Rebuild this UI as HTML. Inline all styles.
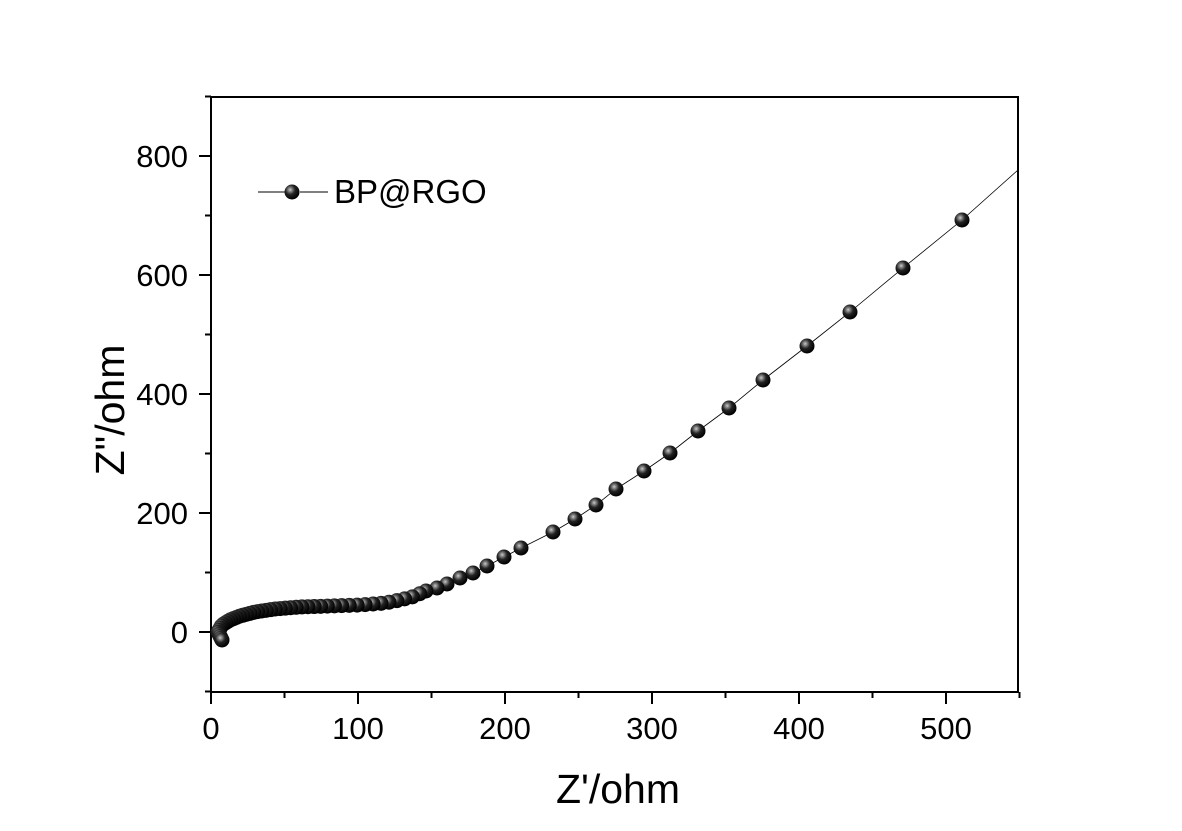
<!DOCTYPE html>
<html><head><meta charset="utf-8"><style>
html,body{margin:0;padding:0;background:#fff;}
svg{display:block;font-family:"Liberation Sans",Arial,sans-serif;}
</style></head><body>
<svg id="s" width="1182" height="831" viewBox="0 0 1182 831" xmlns="http://www.w3.org/2000/svg">
<defs>
<radialGradient id="g" cx="0.38" cy="0.35" r="0.65">
<stop offset="0" stop-color="#ccc"/><stop offset="0.18" stop-color="#888"/><stop offset="0.5" stop-color="#222"/><stop offset="1" stop-color="#000"/>
</radialGradient>
</defs>
<rect x="211" y="97" width="807" height="595" fill="none" stroke="#000" stroke-width="2"/>
<g id="ticks" stroke="#000" stroke-width="2"></g>
<g id="labels" font-size="31" fill="#000"></g>
<text x="618" y="803" font-size="41" text-anchor="middle">Z'/ohm</text>
<text transform="translate(124,410) rotate(-90)" font-size="41" text-anchor="middle">Z"/ohm</text>
<line x1="258" y1="192" x2="286" y2="192" stroke="#000" stroke-width="1"/>
<line x1="300" y1="192" x2="328" y2="192" stroke="#000" stroke-width="1"/>
<circle cx="292" cy="192" r="7.5" fill="url(#g)"/>
<text x="334" y="203" font-size="33">BP@RGO</text>
<g id="data"></g>
</svg>
<script>
var NS="http://www.w3.org/2000/svg";
function el(p,t,a){var e=document.createElementNS(NS,t);for(var k in a)e.setAttribute(k,a[k]);p.appendChild(e);return e;}
var T=document.getElementById('ticks'),L=document.getElementById('labels'),D=document.getElementById('data');
function X(v){return 211+1.47*v;} function Y(v){return 632-0.595*v;}
for(var v=0;v<=550;v+=50){var x=X(v),maj=v%100==0;el(T,'line',{x1:x,y1:692,x2:x,y2:maj?704:698});
 if(maj){var t=el(L,'text',{x:x,y:739,'text-anchor':'middle'});t.textContent=v;}}
for(var v=-100;v<=900;v+=100){var y=Y(v),maj=v%200==0;el(T,'line',{x1:211,y1:y,x2:maj?199:205,y2:y});
 if(maj){var t=el(L,'text',{x:188,y:y+11,'text-anchor':'end'});t.textContent=v;}}
var path=[[222,640],[218,632],[222,625],[230,620],[240,616],[255,612],[275,609],[300,607],[330,606],[360,605],[385,603],[400,600],[412,597],[426,591]];
var big=[[426,591],[437,588],[447,584],[460,578],[473,573],[487,566],[504,557],[521,548],[553,532],[575,519],[596,505],[616,489],[644,471],[670,453],[698,431],[729,408],[763,380],[807,346],[850,312],[903,268],[962,220]];
var pts=[];
var segs=[],tot=0;for(var i=1;i<path.length;i++){var dx=path[i][0]-path[i-1][0],dy=path[i][1]-path[i-1][1],l=Math.hypot(dx,dy);segs.push(l);tot+=l;}
function at(s){for(var i=0;i<segs.length;i++){if(s<=segs[i]){var f=s/segs[i];return[path[i][0]+f*(path[i+1][0]-path[i][0]),path[i][1]+f*(path[i+1][1]-path[i][1])];}s-=segs[i];}return path[path.length-1];}
var s=0;while(s<tot-5){pts.push(at(s));s+=2+Math.min(6,s/25);}
pts=pts.concat(big);
var ln="M"+pts.map(function(p){return p[0]+","+p[1];}).join("L")+"L1018,170";
el(D,'path',{d:ln,fill:'none',stroke:'#000','stroke-width':0.8});
for(var i=pts.length-1;i>=0;i--)el(D,'circle',{cx:pts[i][0],cy:pts[i][1],r:7.5,fill:'url(#g)'});
</script>
</body></html>
